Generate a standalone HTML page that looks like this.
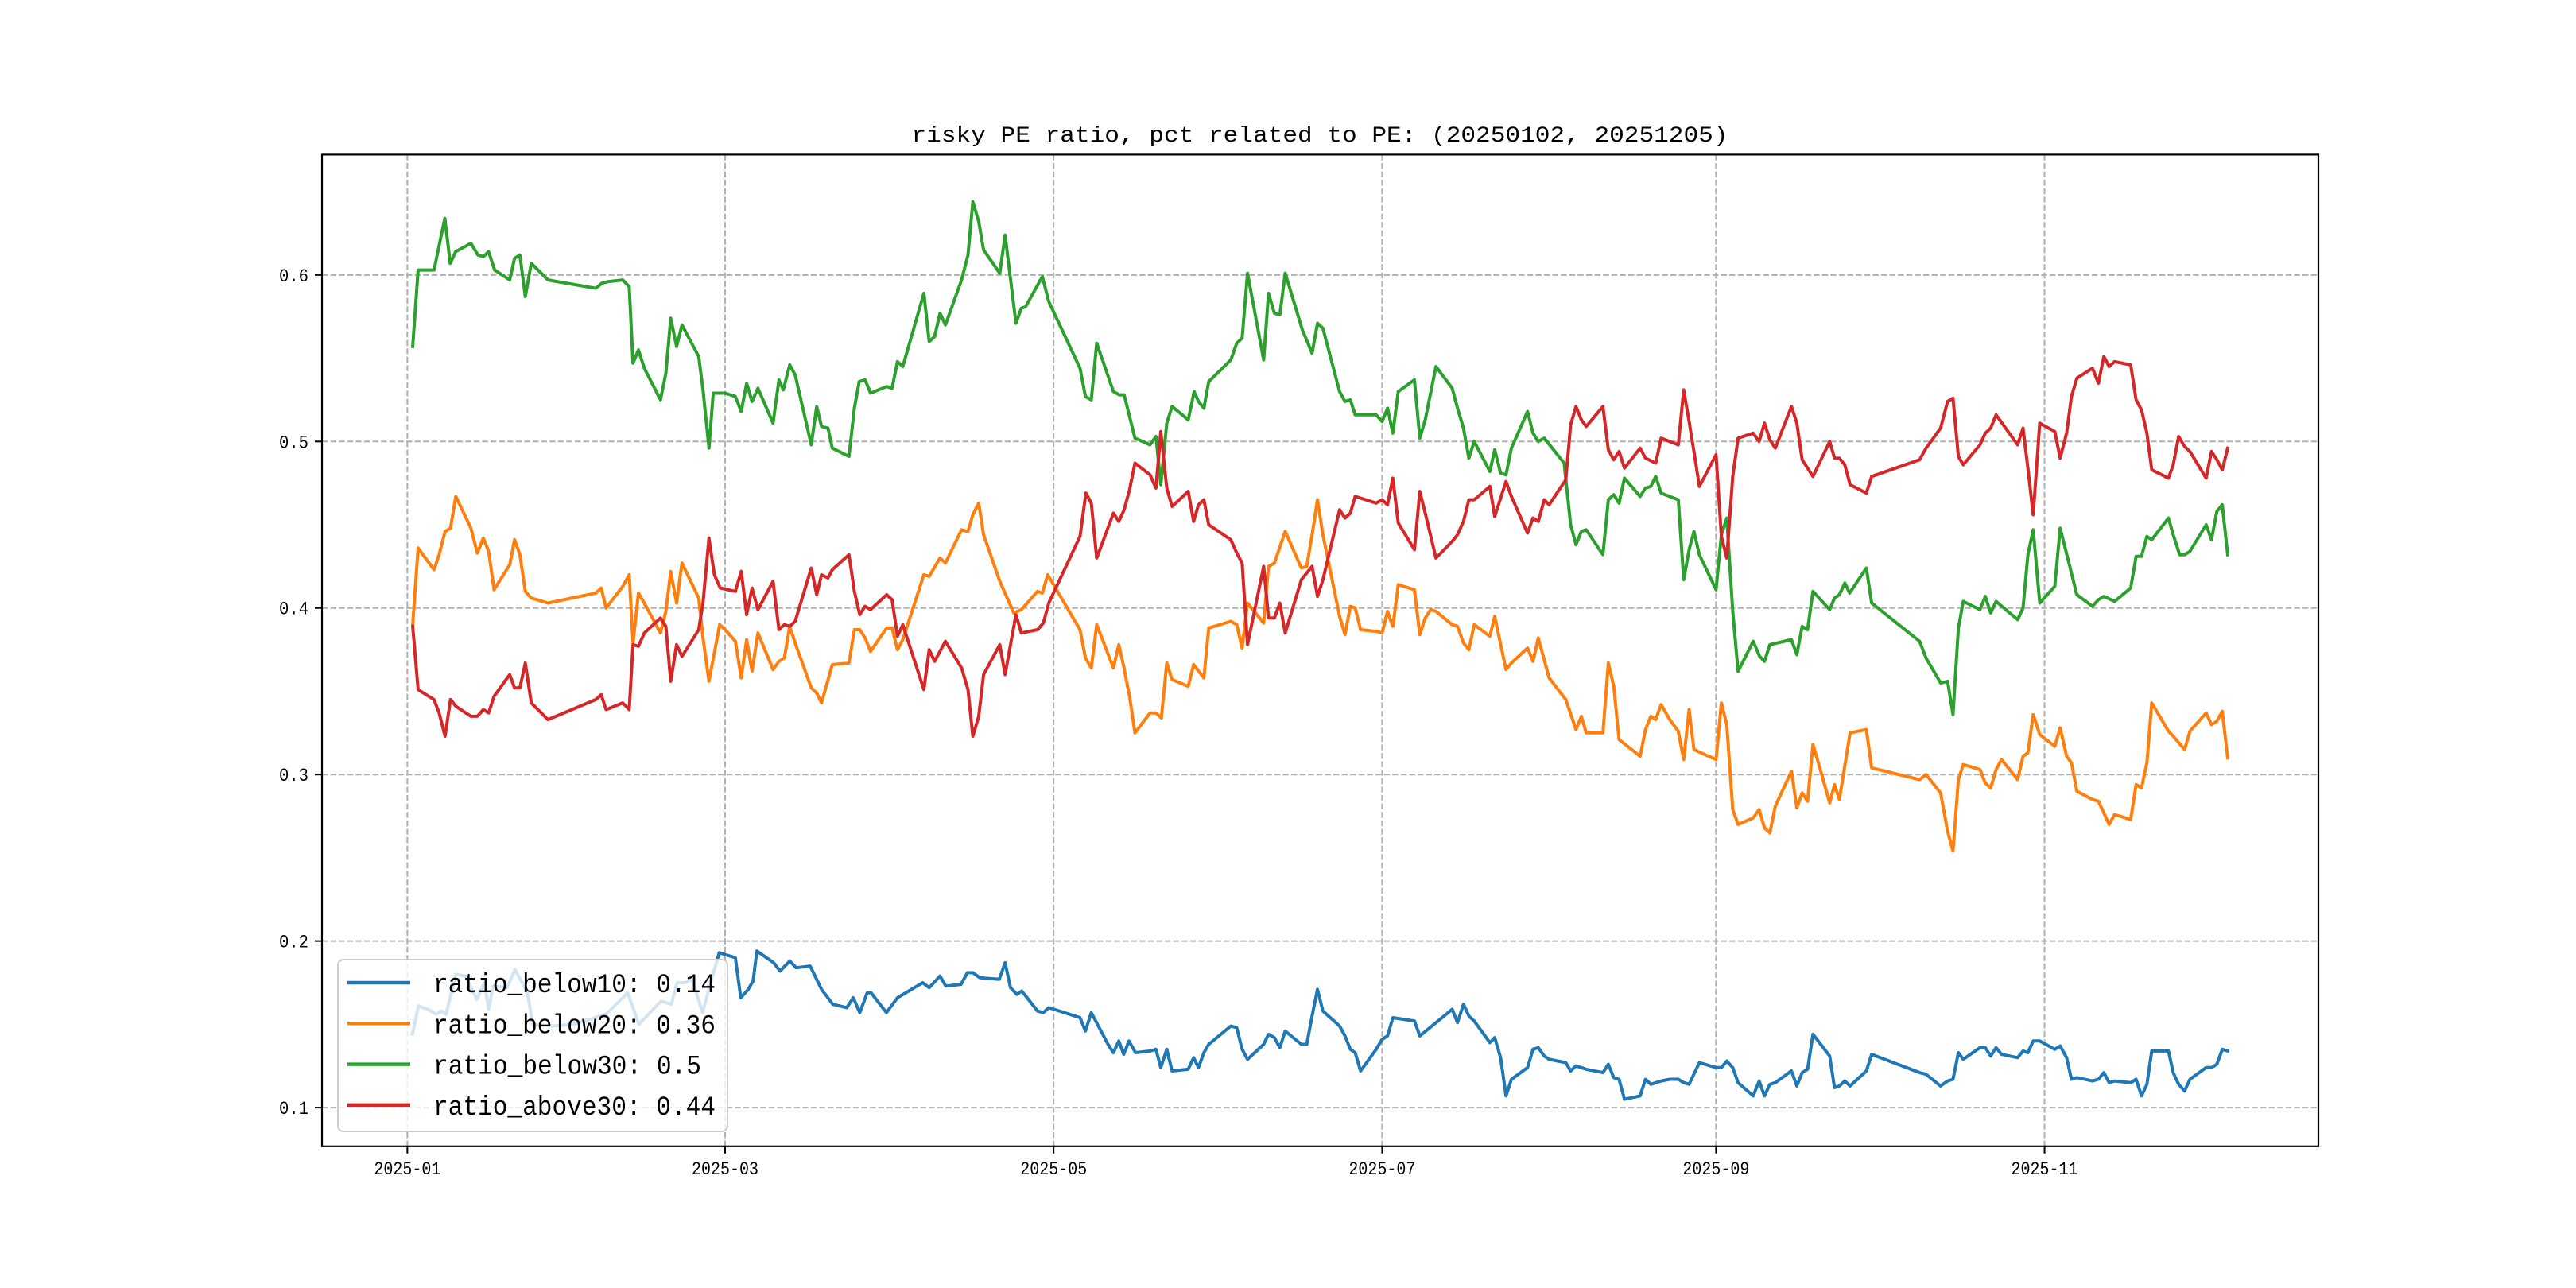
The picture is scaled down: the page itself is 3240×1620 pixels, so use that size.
<!DOCTYPE html>
<html><head><meta charset="utf-8">
<style>
html,body{margin:0;padding:0;background:#fff;}
svg{display:block;}
text{font-family:"Liberation Mono","DejaVu Sans Mono",monospace;fill:#000;}
</style></head>
<body>
<svg id="chart" width="3240" height="1620" viewBox="0 0 3240 1620" xmlns="http://www.w3.org/2000/svg">
<rect x="0" y="0" width="3240" height="1620" fill="#fff"/>
<text x="1660" y="178" font-size="28" text-anchor="middle" textLength="1027" lengthAdjust="spacingAndGlyphs">risky PE ratio, pct related to PE: (20250102, 20251205)</text>
<g id="grid"></g>
<g id="series"></g>
<rect x="405" y="194.4" width="2511" height="1247.4" fill="none" stroke="#000" stroke-width="2.2"/>
<g id="ticks"></g>
<g id="legend"></g>
</svg>
<script>
// ---- data (days since 2025-01-01) ----
const xTickLabels = ["2025-01","2025-03","2025-05","2025-07","2025-09","2025-11"];
const xTickDays = [0,59,120,181,243,304];
const yTickValues = [0.1,0.2,0.3,0.4,0.5,0.6];
const yTickLabels = ["0.1","0.2","0.3","0.4","0.5","0.6"];
const seriesNames = ["ratio_below10","ratio_below20","ratio_below30","ratio_above30"];
const seriesLast = ["0.14","0.36","0.5","0.44"];
const seriesColors = ["#1f77b4","#ff7f0e","#2ca02c","#d62728"];

const b10Days = [0.93,2.07,3.8,5.4,6.3,7.2,8.95,10.8,12.9,14.3,15.1,15.9,18.5,20.0,22.3,23.3,27.0,30.8,36.9,40.9,43.0,47.1,49.0,50.1,51.5,52.9,54.8,56.4,57.9,60.9,61.9,63.3,64.2,64.9,68.0,69.2,71.0,72.2,74.8,76.9,79.0,81.6,82.8,84.0,85.4,86.1,88.96,91.0,95.7,96.9,98.9,99.98,102.8,104.0,105.0,106.3,109.9,111.0,112.0,113.2,114.1,117.0,118.1,119.1,124.9,125.9,127.0,130.1,131.1,132.1,133.0,134.0,135.2,138.0,139.0,139.9,141.0,142.0,145.0,146.0,146.9,147.9,148.8,152.9,154.0,155.0,156.0,159.0,159.9,161.0,162.0,163.0,166.0,167.0,168.0,169.0,170.0,173.1,174.1,175.1,176.0,177.0,179.9,181.0,182.0,183.0,187.0,188.0,191.0,194.0,195.0,196.1,197.1,198.1,201.0,201.9,203.0,204.0,205.0,208.0,209.0,210.0,211.1,212.0,215.1,216.0,217.0,218.0,218.9,222.0,223.0,224.0,225.0,226.0,228.9,229.9,230.9,232.8,234.4,236.0,237.0,238.0,239.9,243.0,244.0,245.0,246.1,247.1,249.9,251.0,252.0,253.0,254.0,257.0,258.0,259.0,260.0,261.0,264.1,265.0,265.9,266.9,267.9,270.9,271.9,280.8,282.0,284.7,286.0,287.0,288.0,288.9,292.0,293.0,294.0,295.0,296.0,299.0,300.0,300.9,301.9,303.1,305.9,306.9,308.1,309.0,310.0,312.9,314.0,315.0,316.0,317.0,320.0,321.0,322.0,323.0,323.9,327.0,327.9,328.9,330.0,331.0,334.0,335.0,336.0,337.0,338.0];
const b10Vals = [0.144,0.161,0.159,0.156,0.158,0.156,0.180,0.179,0.165,0.175,0.159,0.173,0.172,0.183,0.169,0.150,0.149,0.150,0.156,0.169,0.150,0.164,0.162,0.175,0.175,0.177,0.157,0.176,0.193,0.190,0.166,0.171,0.176,0.194,0.187,0.182,0.188,0.184,0.185,0.171,0.162,0.160,0.166,0.157,0.169,0.169,0.157,0.166,0.175,0.172,0.179,0.173,0.174,0.181,0.181,0.178,0.177,0.187,0.172,0.168,0.170,0.158,0.157,0.160,0.154,0.146,0.157,0.138,0.133,0.140,0.132,0.140,0.133,0.134,0.135,0.124,0.135,0.122,0.123,0.130,0.124,0.133,0.138,0.149,0.148,0.135,0.129,0.138,0.144,0.142,0.136,0.146,0.138,0.138,0.155,0.171,0.158,0.149,0.143,0.135,0.133,0.122,0.135,0.141,0.143,0.154,0.152,0.143,0.151,0.159,0.151,0.162,0.155,0.152,0.139,0.142,0.130,0.107,0.117,0.124,0.135,0.136,0.131,0.129,0.127,0.122,0.125,0.124,0.123,0.121,0.126,0.118,0.117,0.105,0.107,0.117,0.114,0.116,0.117,0.117,0.115,0.114,0.127,0.124,0.124,0.128,0.124,0.115,0.107,0.116,0.107,0.114,0.115,0.122,0.113,0.121,0.123,0.144,0.131,0.112,0.113,0.116,0.113,0.122,0.132,0.121,0.120,0.113,0.116,0.117,0.133,0.129,0.136,0.136,0.131,0.136,0.132,0.130,0.134,0.133,0.140,0.140,0.135,0.137,0.130,0.117,0.118,0.116,0.117,0.121,0.115,0.116,0.115,0.117,0.107,0.114,0.134,0.134,0.121,0.114,0.110,0.117,0.124,0.124,0.126,0.135,0.134];

const b20Days = [1.0,2.0,4.95,5.9,7.0,8.0,9.0,11.8,13.0,14.1,15.1,16.1,19.0,19.9,20.9,21.9,23.0,26.1,35.0,36.0,36.9,40.0,41.2,41.9,42.9,44.0,47.0,48.0,48.9,50.0,51.0,54.1,54.9,56.0,58.0,59.0,60.9,62.0,63.0,64.0,65.1,67.9,69.0,70.0,71.0,72.0,75.0,76.0,76.9,78.9,82.0,83.0,84.0,85.0,86.0,89.0,90.0,91.0,92.0,95.9,96.9,98.9,99.9,102.9,104.1,105.0,106.1,107.0,110.0,112.6,114.0,117.0,117.9,118.9,124.9,125.9,127.0,128.0,131.1,132.1,133.0,134.1,135.1,137.9,139.0,140.0,141.0,142.0,145.0,146.0,147.9,148.8,152.9,154.0,155.0,156.0,159.0,159.9,161.0,163.0,166.0,167.0,168.0,169.0,170.0,173.1,174.1,175.1,176.0,177.0,179.9,181.0,182.0,183.0,184.0,187.0,188.0,189.0,190.0,191.0,194.0,195.0,196.1,197.1,198.1,201.0,201.9,204.0,205.0,208.0,209.0,210.0,212.0,215.1,217.0,218.0,218.9,222.0,223.0,224.0,225.0,228.9,229.9,230.9,231.8,232.8,234.4,236.0,237.0,238.0,238.9,243.0,244.0,245.0,246.1,247.1,249.9,251.0,252.0,253.0,254.0,257.0,258.0,259.0,260.0,261.0,262.1,264.1,265.0,265.9,267.9,270.9,271.9,280.8,282.0,284.7,286.0,287.0,288.0,288.9,292.0,293.0,294.0,295.0,296.0,299.0,300.0,300.9,301.9,303.1,305.9,306.9,308.1,309.0,310.0,312.9,314.0,316.0,317.0,320.0,321.0,322.0,323.0,323.9,327.0,327.9,330.0,331.0,334.0,335.0,336.0,337.0,338.0];
const b20Vals = [0.390,0.436,0.423,0.432,0.446,0.448,0.467,0.448,0.433,0.442,0.434,0.411,0.426,0.441,0.432,0.410,0.406,0.403,0.409,0.412,0.400,0.413,0.420,0.379,0.409,0.403,0.385,0.398,0.422,0.403,0.427,0.406,0.382,0.356,0.390,0.387,0.380,0.358,0.381,0.362,0.385,0.363,0.368,0.370,0.389,0.379,0.352,0.349,0.343,0.366,0.367,0.387,0.387,0.382,0.374,0.388,0.388,0.375,0.381,0.420,0.419,0.430,0.427,0.447,0.446,0.456,0.463,0.444,0.416,0.397,0.399,0.410,0.409,0.420,0.387,0.370,0.364,0.390,0.364,0.378,0.365,0.347,0.325,0.337,0.337,0.334,0.367,0.357,0.353,0.366,0.358,0.388,0.392,0.390,0.376,0.403,0.391,0.425,0.427,0.446,0.424,0.425,0.444,0.465,0.444,0.395,0.384,0.401,0.400,0.387,0.386,0.385,0.398,0.389,0.414,0.411,0.384,0.394,0.399,0.398,0.390,0.389,0.379,0.375,0.390,0.383,0.395,0.363,0.367,0.376,0.368,0.382,0.358,0.345,0.327,0.335,0.325,0.325,0.367,0.353,0.321,0.311,0.327,0.335,0.333,0.342,0.333,0.326,0.309,0.339,0.315,0.309,0.343,0.330,0.279,0.270,0.274,0.279,0.268,0.265,0.281,0.302,0.280,0.289,0.284,0.318,0.306,0.283,0.294,0.285,0.325,0.327,0.304,0.297,0.300,0.289,0.266,0.254,0.297,0.306,0.303,0.295,0.292,0.303,0.309,0.297,0.311,0.313,0.336,0.324,0.317,0.328,0.311,0.307,0.290,0.285,0.284,0.270,0.276,0.273,0.294,0.292,0.307,0.343,0.326,0.323,0.315,0.326,0.337,0.330,0.332,0.338,0.310];

const b30Days = [1.0,2.0,4.95,6.96,7.96,8.96,11.8,13.1,14.1,15.1,16.2,19.0,19.9,20.9,21.9,23.0,26.1,35.0,36.1,37.3,40.0,41.2,41.9,42.9,44.0,47.0,48.0,48.9,50.0,51.0,54.1,54.9,56.0,56.8,59.0,60.9,62.0,63.0,64.0,65.1,67.9,69.0,69.8,71.0,72.0,75.0,76.0,76.9,78.1,78.9,82.0,83.0,83.9,85.0,86.0,89.0,90.0,91.0,92.0,95.9,96.9,97.9,98.9,99.9,102.9,104.1,105.0,106.1,107.0,110.0,111.0,113.0,114.0,114.8,117.9,119.1,124.9,125.9,127.0,128.0,131.1,132.2,133.1,135.1,137.9,139.0,139.9,141.0,142.0,145.0,146.1,146.9,147.9,148.8,152.9,154.0,155.0,156.0,159.0,159.9,161.0,162.0,163.0,166.2,168.0,169.0,170.0,173.1,174.1,175.1,176.0,179.9,181.0,182.0,183.0,184.0,187.0,188.0,189.0,191.0,194.0,195.0,196.1,197.1,198.1,201.0,201.9,203.0,204.0,205.0,208.0,209.0,210.0,211.1,214.8,216.0,217.0,218.0,218.9,222.0,223.0,224.0,225.0,226.0,228.9,229.9,230.9,231.8,232.8,236.0,237.0,238.0,238.9,239.9,243.0,244.0,245.0,246.1,247.1,249.9,251.1,252.0,253.0,257.0,258.0,259.0,260.0,261.0,264.1,265.0,265.9,266.9,267.8,270.9,271.9,280.8,282.0,284.7,286.0,287.0,288.0,288.9,292.0,293.0,294.0,295.0,299.0,300.0,300.9,301.9,303.1,305.9,306.9,310.0,312.9,314.0,315.0,317.0,320.0,321.0,322.0,323.0,323.9,327.0,327.9,329.1,330.0,331.0,334.0,335.0,336.0,337.0,338.0];
const b30Vals = [0.557,0.603,0.603,0.634,0.607,0.614,0.619,0.612,0.611,0.614,0.603,0.597,0.610,0.612,0.587,0.607,0.597,0.592,0.595,0.596,0.597,0.593,0.547,0.555,0.544,0.525,0.541,0.574,0.557,0.570,0.551,0.531,0.496,0.529,0.529,0.527,0.518,0.535,0.524,0.532,0.511,0.537,0.531,0.546,0.540,0.498,0.521,0.509,0.508,0.496,0.491,0.520,0.536,0.537,0.529,0.533,0.532,0.548,0.545,0.589,0.560,0.563,0.577,0.570,0.597,0.612,0.644,0.632,0.615,0.601,0.624,0.571,0.580,0.581,0.599,0.584,0.544,0.527,0.525,0.559,0.530,0.528,0.528,0.502,0.498,0.503,0.474,0.511,0.521,0.513,0.530,0.524,0.520,0.536,0.549,0.559,0.562,0.601,0.549,0.589,0.577,0.576,0.601,0.567,0.553,0.571,0.568,0.530,0.524,0.525,0.516,0.516,0.512,0.520,0.505,0.530,0.537,0.502,0.513,0.545,0.532,0.520,0.508,0.490,0.500,0.482,0.495,0.481,0.480,0.496,0.518,0.505,0.500,0.502,0.487,0.450,0.438,0.446,0.447,0.432,0.465,0.468,0.463,0.478,0.467,0.472,0.473,0.479,0.469,0.465,0.417,0.435,0.446,0.432,0.411,0.444,0.454,0.398,0.362,0.380,0.371,0.368,0.378,0.381,0.372,0.389,0.387,0.410,0.399,0.406,0.408,0.415,0.409,0.424,0.403,0.380,0.370,0.355,0.356,0.336,0.388,0.404,0.399,0.407,0.397,0.404,0.393,0.400,0.432,0.447,0.403,0.413,0.448,0.408,0.401,0.405,0.407,0.404,0.412,0.431,0.431,0.443,0.441,0.454,0.444,0.432,0.432,0.434,0.450,0.441,0.458,0.462,0.432];

const a30Days = [1.0,2.0,4.95,5.9,7.0,8.0,9.0,11.8,13.0,14.1,15.1,16.1,19.0,19.9,20.9,21.9,23.0,26.1,35.0,36.0,36.9,40.0,41.2,41.9,42.9,44.0,47.0,48.0,48.9,50.0,51.0,54.1,54.9,56.0,57.0,58.1,60.9,62.0,63.0,64.0,65.1,67.9,69.0,70.0,71.0,72.0,75.0,76.0,76.9,78.1,78.9,82.0,83.0,84.0,85.0,86.0,89.0,90.0,91.0,92.0,95.9,96.9,97.9,99.9,102.9,104.1,105.0,106.1,107.0,110.0,111.0,113.0,114.0,117.0,118.1,119.1,124.9,126.0,127.0,128.0,131.1,132.1,133.1,134.1,135.1,137.9,139.0,139.9,141.0,142.0,145.0,146.0,146.9,147.9,148.8,152.9,154.0,155.0,156.0,159.0,159.9,161.0,162.0,163.0,166.0,168.0,169.0,170.0,173.1,174.1,175.1,176.0,179.9,181.0,182.0,183.0,184.0,187.0,188.0,189.0,191.0,194.0,195.0,196.1,197.1,198.1,201.0,201.9,204.0,205.0,208.0,209.0,210.0,211.1,212.0,215.1,216.0,217.0,218.0,218.9,222.0,223.0,224.0,225.0,226.0,228.9,229.9,231.8,232.8,236.0,237.0,238.0,238.9,239.9,243.0,244.0,245.0,246.1,247.1,249.9,251.0,252.0,253.0,254.0,257.0,258.0,259.0,261.0,264.1,265.0,265.9,266.9,267.9,270.9,271.9,280.8,282.0,284.7,286.0,287.0,288.0,288.9,292.0,293.0,294.0,295.0,299.0,300.0,300.9,301.9,303.1,305.9,306.9,308.1,309.0,310.0,312.9,314.0,315.0,316.0,317.0,320.0,321.0,322.0,323.0,323.9,327.0,327.9,328.9,330.0,331.0,334.0,335.0,336.0,337.0,338.0];
const a30Vals = [0.389,0.351,0.345,0.337,0.323,0.345,0.341,0.335,0.335,0.339,0.337,0.347,0.360,0.352,0.352,0.367,0.343,0.333,0.345,0.348,0.339,0.343,0.339,0.378,0.377,0.385,0.394,0.389,0.356,0.378,0.371,0.387,0.403,0.442,0.420,0.412,0.410,0.422,0.396,0.412,0.399,0.416,0.387,0.390,0.389,0.392,0.424,0.408,0.420,0.418,0.423,0.432,0.410,0.396,0.401,0.399,0.408,0.405,0.383,0.390,0.351,0.375,0.368,0.380,0.364,0.351,0.323,0.335,0.360,0.378,0.360,0.396,0.385,0.387,0.391,0.403,0.443,0.469,0.463,0.430,0.457,0.452,0.459,0.471,0.487,0.480,0.472,0.506,0.472,0.461,0.470,0.452,0.462,0.465,0.450,0.441,0.433,0.427,0.378,0.425,0.394,0.394,0.403,0.385,0.417,0.425,0.407,0.417,0.459,0.454,0.457,0.467,0.463,0.465,0.462,0.478,0.451,0.435,0.470,0.457,0.430,0.440,0.444,0.452,0.465,0.465,0.473,0.455,0.476,0.467,0.445,0.454,0.452,0.465,0.462,0.477,0.510,0.521,0.513,0.509,0.521,0.495,0.489,0.494,0.484,0.496,0.490,0.487,0.502,0.498,0.531,0.512,0.494,0.473,0.492,0.443,0.430,0.479,0.502,0.505,0.500,0.511,0.501,0.496,0.521,0.511,0.489,0.479,0.500,0.490,0.490,0.486,0.474,0.469,0.479,0.489,0.496,0.508,0.524,0.526,0.491,0.486,0.498,0.505,0.508,0.516,0.498,0.508,0.484,0.456,0.511,0.506,0.490,0.505,0.527,0.538,0.544,0.535,0.551,0.545,0.548,0.546,0.525,0.519,0.505,0.483,0.478,0.486,0.503,0.497,0.494,0.478,0.494,0.489,0.483,0.496];

// ---- axes ----
const X0 = 405, X1 = 2916, Y0 = 1441.8, Y1 = 194.4;
const dMin = -15.85, dMax = 354.85, vMin = 0.07675, vMax = 0.6723;
function xScale(d){ return X0 + (d - dMin) / (dMax - dMin) * (X1 - X0); }
function yScale(v){ return Y0 - (v - vMin) / (vMax - vMin) * (Y0 - Y1); }

const NS = "http://www.w3.org/2000/svg";
function mk(tag, attrs, parent){ const e = document.createElementNS(NS, tag); for (const k in attrs) e.setAttribute(k, attrs[k]); parent.appendChild(e); return e; }

const grid = document.getElementById('grid');
const ticks = document.getElementById('ticks');
xTickDays.forEach((d, i) => {
  const x = xScale(d);
  const g = mk('line', {x1:x, x2:x, y1:Y1, y2:Y0, stroke:'#b0b0b0', 'stroke-width':2, 'stroke-dasharray':'7.4,3.2'}, grid);
  
  
  const t = mk('line', {x1:x, x2:x, y1:Y0, y2:Y0+9, stroke:'#000', 'stroke-width':2}, ticks);
  
  
  const lb = mk('text', {x:x, y:1477, 'font-size':23, 'text-anchor':'middle', textLength:84, lengthAdjust:'spacingAndGlyphs'}, ticks);
  lb.textContent = xTickLabels[i];
  
  
});
yTickValues.forEach((v, i) => {
  const y = yScale(v);
  const g = mk('line', {x1:X0, x2:X1, y1:y, y2:y, stroke:'#b0b0b0', 'stroke-width':2, 'stroke-dasharray':'7.4,3.2'}, grid);
  
  
  const t = mk('line', {x1:X0-9, x2:X0, y1:y, y2:y, stroke:'#000', 'stroke-width':2}, ticks);
  
  
  const lb = mk('text', {x:388, y:y+8, 'font-size':23, 'text-anchor':'end', textLength:37, lengthAdjust:'spacingAndGlyphs'}, ticks);
  lb.textContent = yTickLabels[i];
  
  
});

// ---- series ----
const seriesDays = [b10Days, b20Days, b30Days, a30Days];
const seriesVals = [b10Vals, b20Vals, b30Vals, a30Vals];
const sg = document.getElementById('series');
seriesNames.forEach((n, i) => {
  const pts = seriesDays[i].map((d, k) => xScale(d).toFixed(1) + ',' + yScale(seriesVals[i][k]).toFixed(1)).join(' ');
  const pl = mk('polyline', {points:pts, fill:'none', stroke:seriesColors[i], 'stroke-width':4, 'stroke-linejoin':'round', 'stroke-linecap':'square'}, sg);
  
  
});

// ---- legend ----
const lg = document.getElementById('legend');
const box = mk('rect', {x:425, y:1207, width:490, height:216, rx:7, fill:'#fff', 'fill-opacity':0.8, stroke:'#cccccc', 'stroke-width':2}, lg);


seriesNames.forEach((n, i) => {
  const y = 1236 + i * 51.3;
  const ln = mk('line', {x1:437, x2:516, y1:y, y2:y, stroke:seriesColors[i], 'stroke-width':4.5}, lg);
  
  
  const label = n + ': ' + seriesLast[i];
  const tx = mk('text', {x:545, y:y+12, 'font-size':34, textLength:(label.length * 18.7).toFixed(0), lengthAdjust:'spacingAndGlyphs'}, lg);
  tx.textContent = label;
  
  
});
</script>
</body></html>
